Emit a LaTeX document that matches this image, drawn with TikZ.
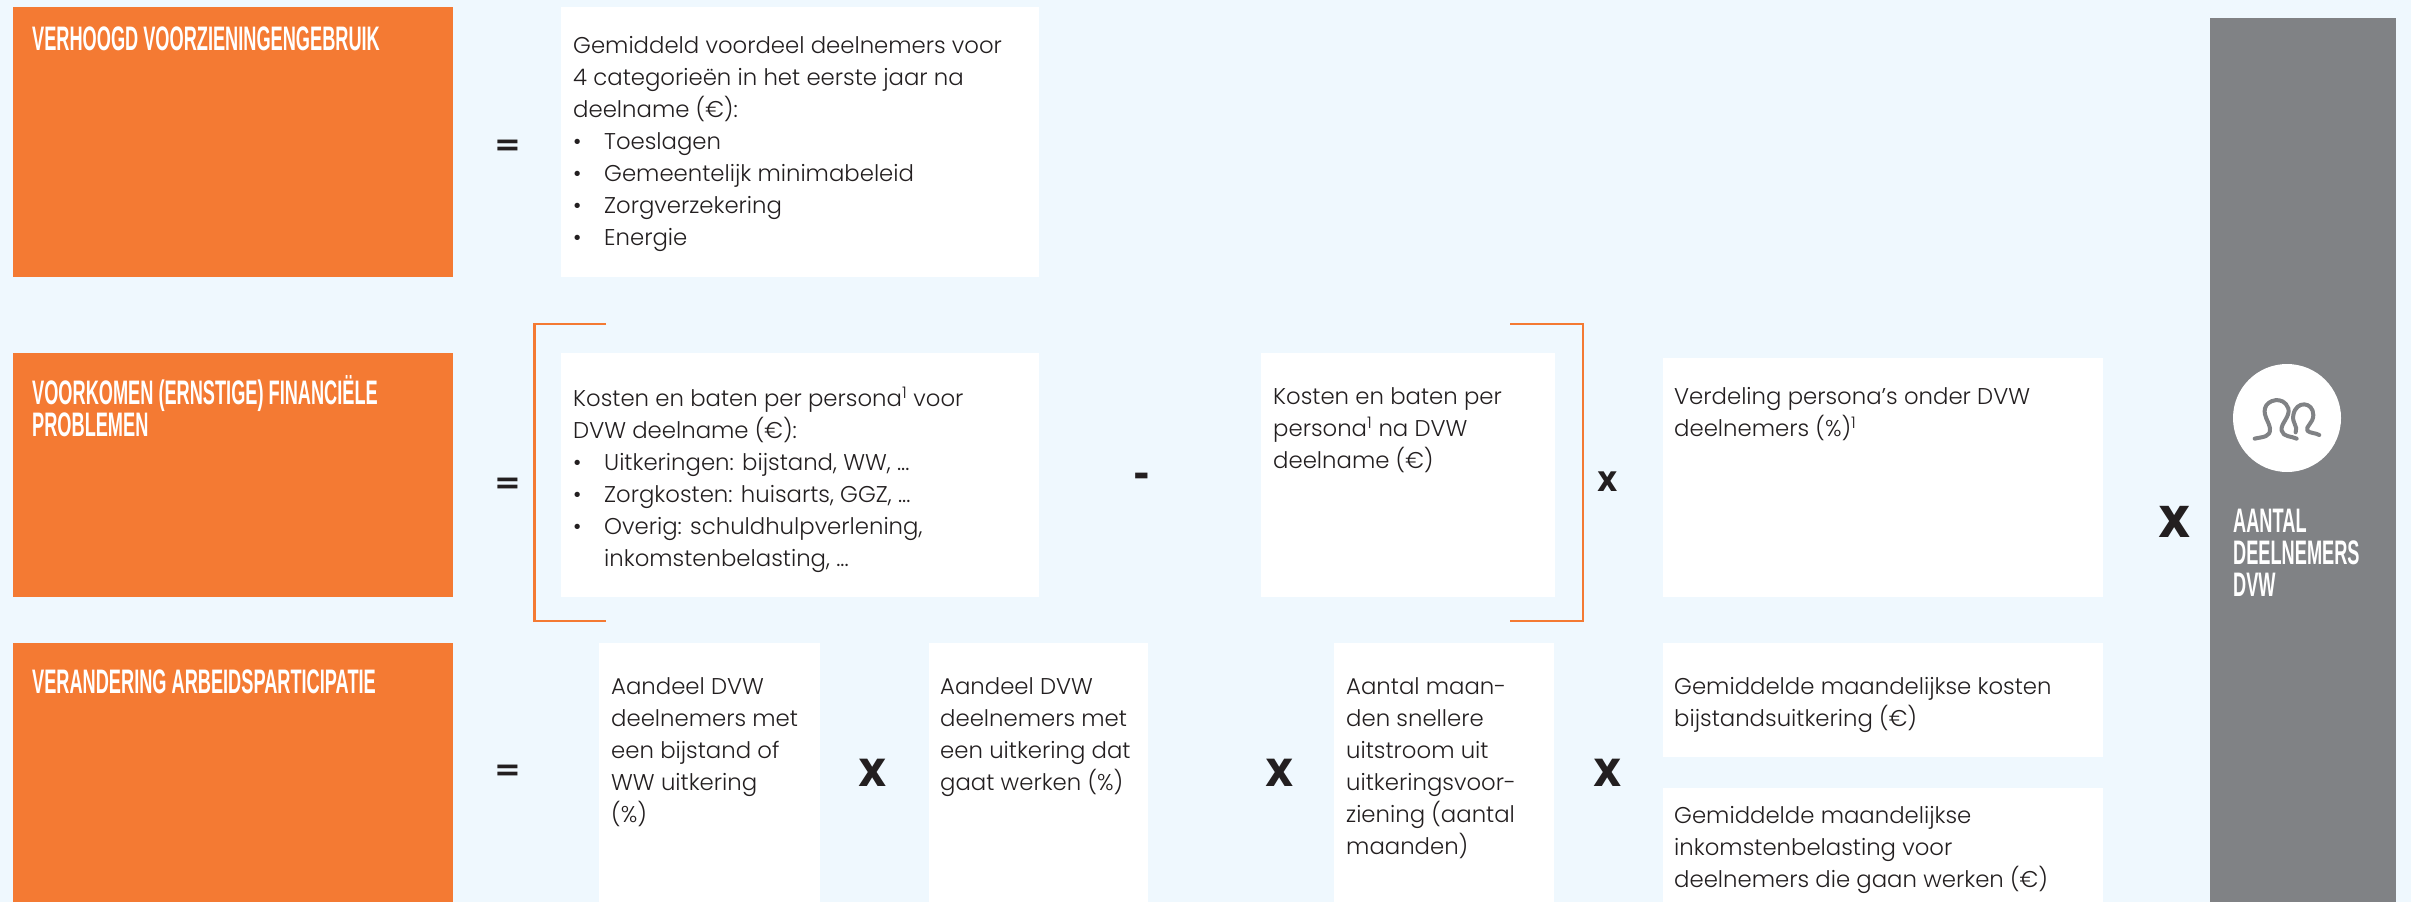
\documentclass[tikz,border=0pt]{standalone}
\usepackage{fontspec}
\setmainfont{Poppins}[UprightFont=* Light,BoldFont=* SemiBold]
\newfontfamily\headf[FakeStretch=0.535]{Liberation Sans Bold}
\newfontfamily\opf{DejaVu Sans Bold}
\newfontfamily\opxf[FakeStretch=0.88]{DejaVu Sans Bold}
\definecolor{bgblue}{HTML}{EFF8FE}
\definecolor{orangeb}{HTML}{F47A33}
\definecolor{greyb}{HTML}{808285}
\definecolor{inkt}{HTML}{231F20}
\newcommand{\bul}{\makebox[31pt][l]{\textbullet}}
\tikzset{
  box/.style={rectangle,inner sep=0pt,minimum width=#1,anchor=north west},
  whitebox/.style={fill=white,draw=none},
  orangebox/.style={fill=orangeb,draw=none},
  bodytext/.style={anchor=north west,inner sep=0pt,align=left,text=inkt,
    font=\fontsize{22.8}{32}\selectfont,execute at begin node={\rule{0pt}{24pt}}},
  headtext/.style={anchor=north west,inner sep=0pt,align=left,text=white,
    font=\headf\fontsize{34}{32}\selectfont,execute at begin node={\rule{0pt}{24pt}}},
  opsign/.style={inner sep=0pt,text=inkt,font=\opf\fontsize{#1}{#1}\selectfont},
  timessign/.style={inner sep=0pt,text=inkt,font=\opxf\fontsize{#1}{#1}\selectfont},
  bracketline/.style={draw=orangeb,line width=2.6pt}
}
\begin{document}
\begin{tikzpicture}[x=1pt,y=-1pt]
\path[use as bounding box,fill=bgblue] (0,0) rectangle (2411,902);
% right column
\fill[greyb] (2210,18) rectangle (2396,902);
\node[circle,fill=white,inner sep=0pt,minimum size=108pt] (people) at (2287,418) {};
\begin{scope}[shift={(2050,300)},x=0.3333pt,y=-0.3333pt]
\draw[greyb,line width=4pt,line cap=round,line join=round]
  (614,416) .. controls (640,410) and (662,412) .. (660,385)
  .. controls (655,360) and (640,350) .. (645,325)
  .. controls (650,300) and (700,285) .. (715,325)
  .. controls (722,350) and (690,372) .. (695,392)
  .. controls (700,412) and (725,408) .. (740,416);
\draw[greyb,line width=4pt,line cap=round,line join=round]
  (737,397) .. controls (745,378) and (725,370) .. (730,345)
  .. controls (738,300) and (790,305) .. (790,345)
  .. controls (790,370) and (765,380) .. (772,392)
  .. controls (780,400) and (795,398) .. (808,405);
\end{scope}
\node[headtext] (aantal) at (2233,509) {AANTAL\\DEELNEMERS\\DVW};
% row 1
\node[box=440pt,minimum height=270pt,orangebox] (o1) at (13,7) {};
\node[box=478pt,minimum height=270pt,whitebox] (w1) at (561,7) {};
\node[headtext] at (32,26) {VERHOOGD VOORZIENINGENGEBRUIK};
\node[bodytext] at (573,36) {Gemiddeld voordeel deelnemers voor\\4 categorieën in het eerste jaar na\\deelname (€):\\\bul Toeslagen\\\bul Gemeentelijk minimabeleid\\\bul Zorgverzekering\\\bul Energie};
\node[opsign=32] at (507.5,148) {=};
% row 2
\node[box=440pt,minimum height=244pt,orangebox] (o2) at (13,353) {};
\node[box=478pt,minimum height=244pt,whitebox] (w2) at (561,353) {};
\node[box=294pt,minimum height=244pt,whitebox] (w3) at (1261,353) {};
\node[box=440pt,minimum height=239pt,whitebox] (w4) at (1663,358) {};
\node[headtext] at (32,375) {VOORKOMEN (ERNSTIGE) FINANCIËLE\\PROBLEMEN};
\node[bodytext] at (573,387) {Kosten en baten per persona\textsuperscript{1} voor\\DVW deelname (€):\\\bul Uitkeringen: bijstand, WW, ...\\\bul Zorgkosten: huisarts, GGZ, ...\\\bul Overig: schuldhulpverlening,\\\hspace*{31pt}inkomstenbelasting, ...};
\node[bodytext] at (1273,387) {Kosten en baten per\\persona\textsuperscript{1} na DVW\\deelname (€)};
\node[bodytext] at (1674,387) {Verdeling persona’s onder DVW\\deelnemers (\%)\textsuperscript{1}};
\node[opsign=32] at (507.5,486) {=};
\node[opsign=40] at (1142,480) {-};
\node[timessign=36] at (1608,482) {x};
\node[timessign=57] at (2175,522) {x};
\draw[bracketline] (606,324) -- (534.5,324) -- (534.5,621) -- (606,621);
\draw[bracketline] (1510,324) -- (1583,324) -- (1583,621) -- (1510,621);
% row 3
\node[box=440pt,minimum height=259pt,orangebox] (o3) at (13,643) {};
\node[box=221pt,minimum height=259pt,whitebox] (w5) at (599,643) {};
\node[box=219pt,minimum height=259pt,whitebox] (w6) at (929,643) {};
\node[box=220pt,minimum height=259pt,whitebox] (w7) at (1334,643) {};
\node[box=440pt,minimum height=114pt,whitebox] (w8) at (1663,643) {};
\node[box=440pt,minimum height=114pt,whitebox] (w9) at (1663,788) {};
\node[headtext] at (32,669) {VERANDERING ARBEIDSPARTICIPATIE};
\node[bodytext] at (611,677) {Aandeel DVW\\deelnemers met\\een bijstand of\\WW uitkering\\(\%)};
\node[bodytext] at (940,677) {Aandeel DVW\\deelnemers met\\een uitkering dat\\gaat werken (\%)};
\node[bodytext] at (1346,677) {Aantal maan-\\den snellere\\uitstroom uit\\uitkeringsvoor-\\ziening (aantal\\maanden)};
\node[bodytext] at (1674,677) {Gemiddelde maandelijkse kosten\\bijstandsuitkering (€)};
\node[bodytext] at (1674,806) {Gemiddelde maandelijkse\\inkomstenbelasting voor\\deelnemers die gaan werken (€)};
\node[opsign=32] at (507.5,773) {=};
\node[timessign=50] at (873,773) {x};
\node[timessign=50] at (1280,773) {x};
\node[timessign=50] at (1608,773) {x};
\end{tikzpicture}
\end{document}
